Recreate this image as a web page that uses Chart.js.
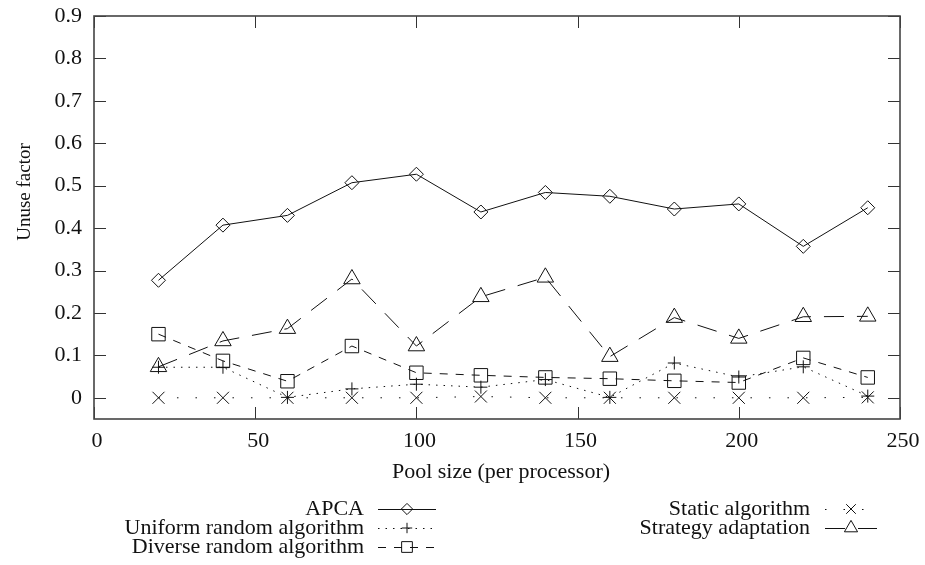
<!DOCTYPE html>
<html>
<head>
<meta charset="utf-8">
<script src="https://cdn.jsdelivr.net/npm/chart.js@4.4.1/dist/chart.umd.min.js"></script>
<style>
    html, body { margin: 0; padding: 0; background: #fff; }
    #wrap { width: 925px; height: 565px; position: relative; }
</style>
</head>
<body>
<div id="wrap"><canvas id="unuse-chart"></canvas></div>
<script>
// --- DATA ---
const poolSizes = [20, 40, 60, 80, 100, 120, 140, 160, 180, 200, 220, 240];
const apca = [0.277, 0.407, 0.430, 0.507, 0.527, 0.438, 0.484, 0.475, 0.445, 0.457, 0.357, 0.448];
const uniformRandom = [0.072, 0.072, 0.001, 0.021, 0.032, 0.025, 0.043, 0.001, 0.082, 0.049, 0.073, 0.004];
const diverseRandom = [0.150, 0.087, 0.039, 0.122, 0.059, 0.053, 0.048, 0.045, 0.040, 0.036, 0.094, 0.048];
const staticAlgorithm = [0, 0, 0, 0, 0, 0.003, 0, 0, 0, 0, 0, 0.001];
const strategyAdaptation = [0.073, 0.134, 0.163, 0.280, 0.122, 0.238, 0.284, 0.097, 0.189, 0.140, 0.191, 0.192];

const seriesLabels = ['APCA', 'Uniform random algorithm', 'Diverse random algorithm', 'Static algorithm', 'Strategy adaptation'];
const xTicks = [0, 50, 100, 150, 200, 250];
const yTicks = [0, 0.1, 0.2, 0.3, 0.4, 0.5, 0.6, 0.7, 0.8, 0.9];
const xTitle = 'Pool size (per processor)';
const yTitle = 'Unuse factor';

const FONT = "'Liberation Serif', 'Times New Roman', serif";
const INK = '#111';

const toPoints = (vals) => vals.map((v, i) => ({ x: poolSizes[i], y: v }));

// gaya tiap seri (gnuplot-ish)
function series(label, vals, dash, style, radius) {
    return {
        label,
        data: toPoints(vals),
        borderColor: INK,
        borderWidth: 1,
        borderDash: dash,
        pointStyle: style,
        pointRadius: radius,
        pointHoverRadius: radius,
        pointBorderColor: INK,
        pointBackgroundColor: 'rgba(0,0,0,0)',
        pointBorderWidth: 1,
        tension: 0,
        fill: false,
    };
}

// --- PLUGIN: frame + inward ticks ---
const framePlugin = {
    id: 'frame',
    afterDraw(chart) {
        const { ctx, chartArea: a, scales } = chart;
        const tl = 12;
        ctx.save();
        ctx.strokeStyle = '#333';
        ctx.lineWidth = 1;
        ctx.setLineDash([]);
        ctx.beginPath();
        yTicks.forEach(v => {
            const y = Math.round(scales.y.getPixelForValue(v)) + 0.5;
            ctx.moveTo(a.left, y); ctx.lineTo(a.left + tl, y);
            ctx.moveTo(a.right, y); ctx.lineTo(a.right - tl, y);
        });
        xTicks.forEach(v => {
            const x = Math.round(scales.x.getPixelForValue(v)) + 0.5;
            ctx.moveTo(x, a.bottom); ctx.lineTo(x, a.bottom - tl);
            ctx.moveTo(x, a.top); ctx.lineTo(x, a.top + tl);
        });
        ctx.stroke();
        ctx.lineWidth = 1.6;
        ctx.strokeStyle = '#444';
        ctx.strokeRect(a.left, a.top, a.right - a.left, a.bottom - a.top);
        ctx.restore();
    }
};

// --- PLUGIN: axis titles + gnuplot style key ---
const legendSlots = [
    { textRight: 364, y: 509, x0: 378, x1: 436 },
    { textRight: 364, y: 528, x0: 378, x1: 436 },
    { textRight: 364, y: 547, x0: 378, x1: 436 },
    { textRight: 810, y: 509, x0: 825, x1: 877 },
    { textRight: 810, y: 528, x0: 825, x1: 877 },
];

const keyPlugin = {
    id: 'gnuKey',
    afterDraw(chart) {
        const ctx = chart.ctx;
        ctx.save();
        ctx.fillStyle = INK;
        ctx.textBaseline = 'middle';

        // judul sumbu
        ctx.font = `22px ${FONT}`;
        ctx.textAlign = 'center';
        ctx.fillText(xTitle, 501, 472);
        ctx.save();
        ctx.translate(25, 192);
        ctx.rotate(-Math.PI / 2);
        ctx.font = `19px ${FONT}`;
        ctx.fillText(yTitle, 0, 0);
        ctx.restore();

        // key
        chart.data.datasets.forEach((ds, i) => {
            const slot = legendSlots[i];
            ctx.font = `22px ${FONT}`;
            ctx.textAlign = 'right';
            ctx.fillStyle = INK;
            ctx.fillText(ds.label, slot.textRight, slot.y);

            ctx.strokeStyle = INK;
            ctx.lineWidth = 1;
            ctx.setLineDash(ds.borderDash || []);
            ctx.beginPath();
            ctx.moveTo(slot.x0, slot.y + 0.5);
            ctx.lineTo(slot.x1, slot.y + 0.5);
            ctx.stroke();

            ctx.setLineDash([]);
            ctx.fillStyle = 'rgba(0,0,0,0)';
            Chart.helpers.drawPoint(ctx, {
                pointStyle: ds.pointStyle,
                radius: ds.pointRadius * 0.8,
                rotation: 0,
                borderWidth: 1,
            }, (slot.x0 + slot.x1) / 2, slot.y);
        });
        ctx.restore();
    }
};

// --- CHART ---
new Chart(document.getElementById('unuse-chart'), {
    type: 'line',
    data: {
        datasets: [
            series(seriesLabels[0], apca, [], 'rectRot', 7),
            series(seriesLabels[1], uniformRandom, [1.5, 6], 'cross', 6.5),
            series(seriesLabels[2], diverseRandom, [8, 8], 'rect', 9.5),
            series(seriesLabels[3], staticAlgorithm, [1.5, 17], 'crossRot', 8.5),
            series(seriesLabels[4], strategyAdaptation, [20, 13], 'triangle', 9.5),
        ]
    },
    options: {
        responsive: true,
        maintainAspectRatio: false,
        animation: false,
        devicePixelRatio: 1,
        layout: { padding: { top: 16, right: 25, left: 0, bottom: 0 } },
        plugins: {
            legend: { display: false },
            tooltip: { enabled: false },
        },
        scales: {
            x: {
                type: 'linear',
                min: 0,
                max: 250,
                afterBuildTicks: (s) => { s.ticks = xTicks.map(v => ({ value: v })); },
                afterFit: (s) => { s.height = 146; s.paddingLeft = 0; s.paddingRight = 0; },
                grid: { display: false, drawTicks: false },
                border: { display: false },
                ticks: {
                    padding: 9,
                    labelOffset: 3,
                    maxRotation: 0,
                    autoSkip: false,
                    color: INK,
                    font: { family: FONT, size: 22 },
                },
            },
            y: {
                type: 'linear',
                min: -0.05,
                max: 0.9,
                afterBuildTicks: (s) => { s.ticks = yTicks.map(v => ({ value: v })); },
                afterFit: (s) => { s.width = 94; s.paddingTop = 0; s.paddingBottom = 0; },
                grid: { display: false, drawTicks: false },
                border: { display: false },
                ticks: {
                    padding: 12,
                    autoSkip: false,
                    color: INK,
                    font: { family: FONT, size: 22 },
                    callback: (v) => String(Math.round(v * 10) / 10),
                },
            }
        }
    },
    plugins: [framePlugin, keyPlugin]
});
</script>
</body>
</html>
